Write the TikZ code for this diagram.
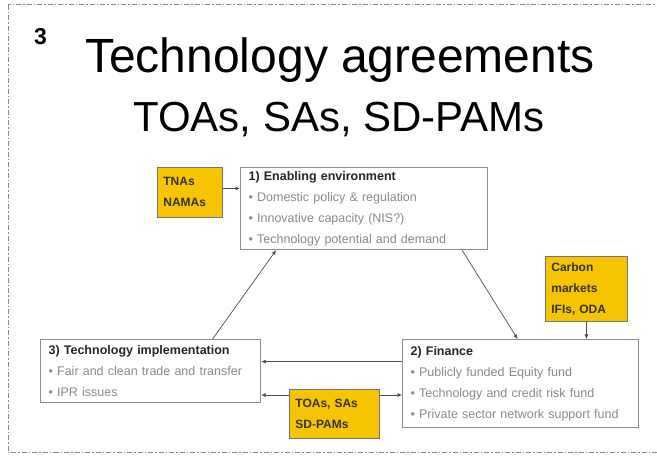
\documentclass[tikz,border=0pt]{standalone}
\usepackage{fontspec}
\setmainfont{Liberation Sans}
\definecolor{tagold}{HTML}{F6C400}
\definecolor{tagray}{HTML}{8A8A8A}
\usetikzlibrary{arrows.meta}
\newcommand\boxhead[1]{{\color{black!85}\bfseries #1}}

\begin{document}
\begin{tikzpicture}[x=1pt, y=-1pt,
        panel/.style={draw=black!45, line width=1.2pt, fill=white, anchor=north west,
                      align=left, inner xsep=8pt, inner ysep=0pt, text=tagray,
                      font=\fontsize{12.5}{21}\selectfont},
        tag/.style={draw=black!55, fill=tagold, line width=0.8pt, anchor=north west,
                    align=left, inner xsep=6pt, inner ysep=0pt, text=black!80,
                    font=\fontsize{12}{21}\selectfont\bfseries},
        arr/.style={-{Latex[length=4.5pt, width=4pt]}, black!70, line width=0.7pt}
      ]
        \clip (0,0) rectangle (657,462);
        \draw[tagray, line width=1pt, dash pattern=on 5pt off 2pt on 1.5pt off 2pt]
          (8,5) rectangle (690,453);

        % headline
        \node[font=\fontsize{23}{23}\selectfont\bfseries, anchor=base] (num) at (40.5,45) {3};
        \node[font=\fontsize{48}{48}\selectfont, anchor=base] (title) at (340,73) {Technology agreements};
        \node[font=\fontsize{42}{42}\selectfont, anchor=base] (subtitle) at (339,132) {TOAs, SAs, SD-PAMs};

        % the three pillars
        \node[panel, text width=231pt, minimum height=82pt] (env) at (240,167)
          {\boxhead{1) Enabling environment}\\
           • Domestic policy \& regulation\\
           • Innovative capacity (NIS?)\\
           • Technology potential and demand};
        \node[panel, text width=220pt, minimum height=88pt] (fin) at (402,339)
          {\boxhead{2) Finance}\\
           • Publicly funded Equity fund\\
           • Technology and credit risk fund\\
           • Private sector network support fund};
        \node[panel, text width=204pt, minimum height=63pt] (imp) at (40,339)
          {\boxhead{3) Technology implementation}\\
           • Fair and clean trade and transfer\\
           • IPR issues};

        % instruments
        \node[tag, text width=53pt, minimum height=50pt] (tna) at (157,167) {TNAs\\NAMAs};
        \node[tag, text width=70pt, minimum height=65pt] (carbon) at (545,256) {Carbon\\markets\\IFIs, ODA};
        \node[tag, text width=78pt, minimum height=49pt] (toa) at (289,389) {TOAs, SAs\\SD-PAMs};

        \draw[arr] ([yshift=4pt]tna.east) -- ([yshift=4pt]tna.east -| env.west);
        \draw[arr] ([xshift=98pt]env.south) -- ([xshift=-3pt]fin.north);
        \draw[arr] ([xshift=62pt]imp.north) -- ([xshift=-88pt]env.south);
        \draw[arr] (carbon.south) -- (carbon.south |- fin.north);
        \draw[arr] ([yshift=22pt]fin.west) -- ([yshift=22pt]fin.west -| imp.east);
        \draw[arr] ([yshift=-6pt]toa.north west) -- ([yshift=-6pt]toa.north west -| imp.east);
        \draw[arr] ([yshift=-6pt]toa.north east) -- ([yshift=-6pt]toa.north east -| fin.west);
      \end{tikzpicture}
\end{document}
